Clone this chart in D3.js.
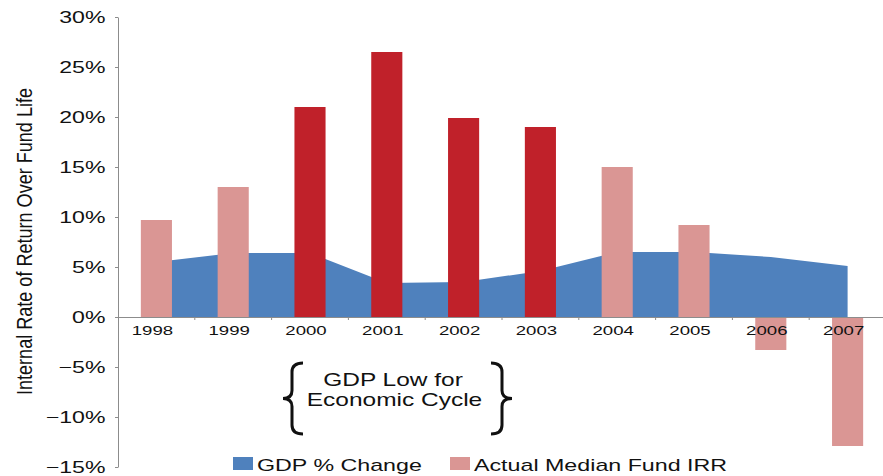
<!DOCTYPE html>
<html>
<head>
<meta charset="utf-8">
<script src="https://cdn.jsdelivr.net/npm/d3@7"></script>
<style>
  body { margin: 0; background: #fff; }
  svg { display: block; font-family: "Liberation Sans", Arial, Helvetica, sans-serif; }
</style>
</head>
<body>
<div id="chart"></div>
<script>
// Chart data (percent)
var years = ["1998", "1999", "2000", "2001", "2002", "2003", "2004", "2005", "2006", "2007"];
var gdpChange = [5.5, 6.4, 6.4, 3.4, 3.5, 4.6, 6.5, 6.5, 6.0, 5.1];
var fundIrr = [9.7, 13.0, 21.0, 26.5, 19.9, 19.0, 15.0, 9.2, -3.3, -12.9];
var lowCycleYears = ["2000", "2001", "2002", "2003"];
var yTicks = [-15, -10, -5, 0, 5, 10, 15, 20, 25, 30];
var legendLabels = ["GDP % Change", "Actual Median Fund IRR"];

var svgWidth = 883;
var svgHeight = 476;

// the original picture is stretched sideways, text too
var stretch = 1.4;

var colors = {
  gdp: "#4f81bd",
  irr: "#da9694",
  low: "#c0212a",
  axis: "#8c8c8c"
};

var svg = d3.select("#chart")
  .append("svg")
  .attr("width", svgWidth)
  .attr("height", svgHeight);

svg.append("rect")
  .attr("width", svgWidth)
  .attr("height", svgHeight)
  .attr("fill", "#fff");

var rows = years.map(function(yr, i) {
  return { year: yr, gdp: gdpChange[i], irr: fundIrr[i] };
});

// scales
var xScale = d3.scaleBand()
  .domain(years)
  .range([118, 886])
  .paddingInner(0.595)
  .paddingOuter(0.2975);

var yScale = d3.scaleLinear()
  .domain([-15, 30])
  .range([467, 17]);

var step = xScale.step();
var bw = xScale.bandwidth();

// GDP area behind the bars
var gdpArea = d3.area()
  .x(d => xScale(d.year) + bw / 2)
  .y0(yScale(0))
  .y1(d => yScale(d.gdp));

svg.append("path")
  .datum(rows)
  .attr("d", gdpArea)
  .attr("fill", colors.gdp);

// fund IRR bars
svg.selectAll(".bar")
  .data(rows)
  .enter()
  .append("rect")
  .attr("class", "bar")
  .attr("x", d => xScale(d.year))
  .attr("width", bw)
  .attr("y", d => yScale(Math.max(0, d.irr)))
  .attr("height", d => Math.abs(yScale(d.irr) - yScale(0)))
  .attr("fill", d => lowCycleYears.indexOf(d.year) >= 0 ? colors.low : colors.irr);

// y axis
var leftAxis = d3.axisLeft(yScale)
  .tickValues(yTicks)
  .tickSize(3)
  .tickSizeOuter(0)
  .tickPadding(6)
  .tickFormat(d => d3.format("d")(d) + "%");

var yAxisGroup = svg.append("g")
  .attr("transform", "translate(118,0)")
  .call(leftAxis);

yAxisGroup.selectAll("path, line").attr("stroke", colors.axis);
yAxisGroup.selectAll("text")
  .attr("font-size", "16.5px")
  .attr("fill", "#111")
  .attr("transform", `scale(${stretch},1)`);

// x axis, labels at centres, tick marks at band edges
var bottomAxis = d3.axisBottom(xScale)
  .tickSize(0)
  .tickSizeOuter(0)
  .tickPadding(9);

var xAxisGroup = svg.append("g")
  .attr("transform", `translate(0,${yScale(0)})`)
  .call(bottomAxis);

xAxisGroup.select("path").attr("stroke", colors.axis);
xAxisGroup.selectAll("text")
  .attr("font-size", "13.3px")
  .attr("fill", "#111")
  .attr("transform", `translate(-4,0) scale(${stretch},1)`);

xAxisGroup.selectAll(".edge")
  .data(years)
  .enter()
  .append("line")
  .attr("class", "edge")
  .attr("x1", d => xScale(d) + bw + (step - bw) / 2)
  .attr("x2", d => xScale(d) + bw + (step - bw) / 2)
  .attr("y1", 0)
  .attr("y2", 3)
  .attr("stroke", colors.axis);

// y axis title
svg.append("text")
  .attr("transform", `translate(32,241.5) scale(${stretch},1) rotate(-90)`)
  .attr("text-anchor", "middle")
  .attr("font-size", "15.5px")
  .attr("textLength", 307)
  .attr("lengthAdjust", "spacingAndGlyphs")
  .attr("fill", "#111")
  .text("Internal Rate of Return Over Fund Life");

// "GDP Low for Economic Cycle" note with braces
var note = svg.append("g");

note.append("text")
  .attr("transform", `translate(393,386) scale(${stretch},1)`)
  .attr("text-anchor", "middle")
  .attr("font-size", "17.5px")
  .attr("fill", "#111")
  .text("GDP Low for");

note.append("text")
  .attr("transform", `translate(394.5,405.7) scale(${stretch},1)`)
  .attr("text-anchor", "middle")
  .attr("font-size", "17.5px")
  .attr("fill", "#111")
  .text("Economic Cycle");

function brace(x0, xm, xt, top, bottom) {
  var mid = (top + bottom) / 2;
  return `M${x0},${top} Q${xm},${top} ${xm},${top + 9} L${xm},${mid - 8} ` +
    `Q${xm},${mid} ${xt},${mid} Q${xm},${mid} ${xm},${mid + 8} ` +
    `L${xm},${bottom - 9} Q${xm},${bottom} ${x0},${bottom}`;
}

note.append("path")
  .attr("d", brace(303, 292, 283, 363, 434))
  .attr("fill", "none")
  .attr("stroke", "#111")
  .attr("stroke-width", 3);

note.append("path")
  .attr("d", brace(491, 502, 512, 363, 434))
  .attr("fill", "none")
  .attr("stroke", "#111")
  .attr("stroke-width", 3);

// legend
var legendX = [233, 450];
var legendColors = [colors.gdp, colors.irr];

var legend = svg.selectAll(".legend")
  .data(legendLabels)
  .enter()
  .append("g")
  .attr("class", "legend");

legend.append("rect")
  .attr("x", (d, i) => legendX[i])
  .attr("y", 457)
  .attr("width", 20)
  .attr("height", 13)
  .attr("fill", (d, i) => legendColors[i]);

legend.append("text")
  .attr("transform", (d, i) => `translate(${legendX[i] + 24},470.5) scale(${stretch},1)`)
  .attr("font-size", "16.6px")
  .attr("fill", "#111")
  .text(d => d);
</script>
</body>
</html>
